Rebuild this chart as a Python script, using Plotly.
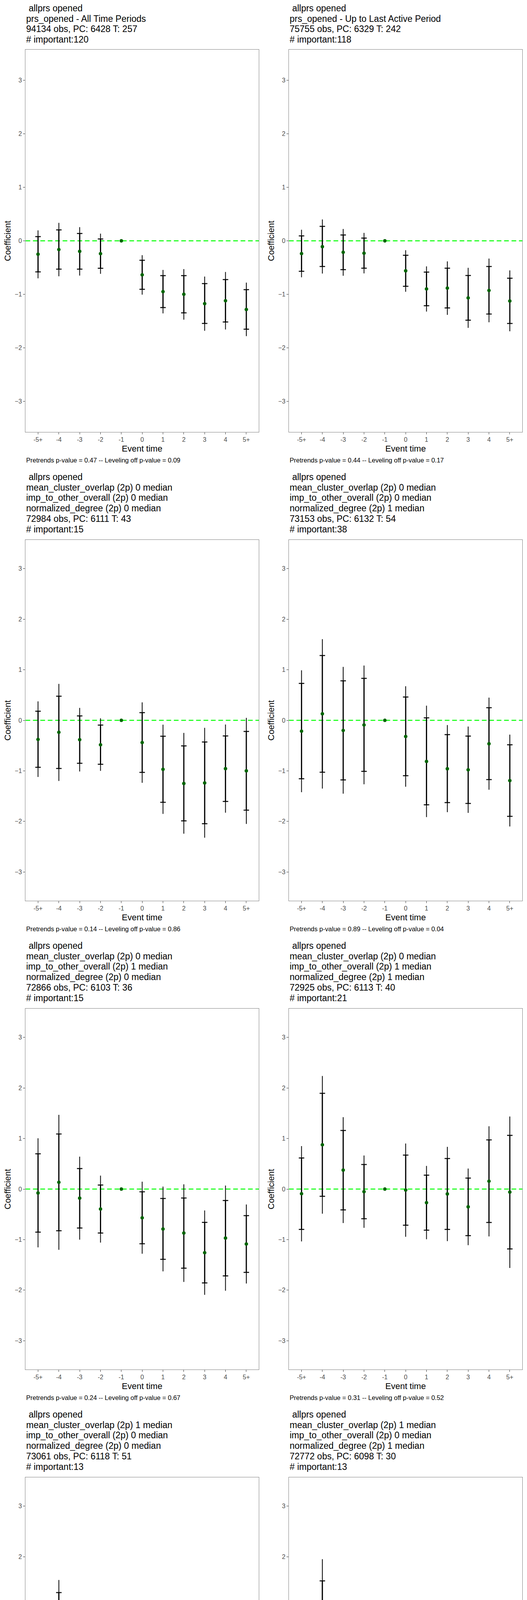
import plotly.graph_objects as go

# categorias del eje x (tiempo de evento)
EVENT_TIMES = ["-5+", "-4", "-3", "-2", "-1", "0", "1", "2", "3", "4", "5+"]
Y_TICKS = [-3, -2, -1, 0, 1, 2, 3]

# coeficientes e intervalos, el periodo -1 es la referencia
coef_1 = [-0.25, -0.163, -0.197, -0.24, 0, -0.635, -0.949, -0.998, -1.173, -1.119, -1.282]
hi95_1 = [0.195, 0.336, 0.255, 0.134, None, -0.268, -0.543, -0.528, -0.667, -0.582, -0.781]
hiin_1 = [0.078, 0.204, 0.136, 0.034, None, -0.363, -0.65, -0.65, -0.798, -0.723, -0.912]
loin_1 = [-0.58, -0.528, -0.528, -0.513, None, -0.905, -1.246, -1.345, -1.543, -1.516, -1.65]
lo95_1 = [-0.70, -0.662, -0.65, -0.616, None, -1.005, -1.355, -1.472, -1.679, -1.655, -1.78]

coef_2 = [-0.238, -0.109, -0.214, -0.231, 0, -0.56, -0.898, -0.883, -1.066, -0.927, -1.124]
hi95_2 = [0.207, 0.399, 0.221, 0.148, None, -0.175, -0.477, -0.384, -0.504, -0.331, -0.552]
hiin_2 = [0.092, 0.27, 0.109, 0.051, None, -0.27, -0.584, -0.511, -0.647, -0.479, -0.698]
loin_2 = [-0.569, -0.479, -0.538, -0.511, None, -0.849, -1.212, -1.253, -1.482, -1.367, -1.543]
lo95_2 = [-0.681, -0.611, -0.652, -0.608, None, -0.951, -1.321, -1.382, -1.625, -1.521, -1.689]

coef_3 = [-0.378, -0.237, -0.383, -0.484, 0, -0.44, -0.97, -1.25, -1.239, -0.956, -1.0]
hi95_3 = [0.375, 0.72, 0.246, 0.04, None, 0.355, -0.086, -0.249, -0.149, -0.083, 0.049]
hiin_3 = [0.18, 0.478, 0.086, -0.094, None, 0.152, -0.315, -0.506, -0.429, -0.309, -0.22]
loin_3 = [-0.93, -0.953, -0.85, -0.87, None, -1.03, -1.622, -1.989, -2.046, -1.605, -1.777]
lo95_3 = [-1.12, -1.20, -1.013, -1.0, None, -1.236, -1.851, -2.243, -2.323, -1.828, -2.05]

coef_4 = [-0.215, 0.129, -0.2, -0.092, 0, -0.32, -0.813, -0.958, -0.979, -0.464, -1.193]
hi95_4 = [0.99, 1.605, 1.056, 1.084, None, 0.675, 0.289, -0.094, -0.123, 0.449, -0.283]
hiin_4 = [0.73, 1.282, 0.781, 0.83, None, 0.461, 0.049, -0.283, -0.312, 0.249, -0.484]
loin_4 = [-1.156, -1.027, -1.179, -1.01, None, -1.096, -1.671, -1.628, -1.645, -1.173, -1.9]
lo95_4 = [-1.422, -1.35, -1.45, -1.265, None, -1.313, -1.914, -1.817, -1.831, -1.373, -2.1]

coef_5 = [-0.077, 0.134, -0.18, -0.395, 0, -0.569, -0.79, -0.87, -1.259, -0.97, -1.087]
hi95_5 = [1.004, 1.468, 0.641, 0.266, None, 0.146, 0.049, 0.094, -0.423, 0.069, -0.306]
hiin_5 = [0.698, 1.09, 0.406, 0.08, None, -0.054, -0.186, -0.177, -0.658, -0.226, -0.526]
loin_5 = [-0.852, -0.824, -0.77, -0.87, None, -1.082, -1.39, -1.565, -1.857, -1.717, -1.648]
lo95_5 = [-1.153, -1.202, -1.001, -1.059, None, -1.279, -1.628, -1.837, -2.092, -2.011, -1.868]

coef_6 = [-0.092, 0.876, 0.375, -0.052, 0, -0.02, -0.269, -0.097, -0.352, 0.155, -0.06]
hi95_6 = [0.85, 2.238, 1.422, 0.664, None, 0.901, 0.458, 0.835, 0.406, 1.242, 1.436]
hiin_6 = [0.615, 1.894, 1.159, 0.486, None, 0.672, 0.275, 0.604, 0.217, 0.973, 1.062]
loin_6 = [-0.798, -0.143, -0.412, -0.587, None, -0.715, -0.813, -0.798, -0.921, -0.661, -1.184]
lo95_6 = [-1.036, -0.486, -0.672, -0.767, None, -0.944, -0.993, -1.03, -1.11, -0.936, -1.56]

coef_7 = [0.36, 0.601, 0.381, 0.226, 0, -0.246, -0.526, -0.306, -0.395, -0.132, -0.418]
hi95_7 = [0.979, 1.539, 0.916, 0.664, None, 0.237, 0.092, 0.269, 0.16, 0.753, 0.263]
hiin_7 = [0.818, 1.29, 0.775, 0.552, None, 0.109, -0.069, 0.117, 0.014, 0.524, 0.083]
loin_7 = [-0.092, -0.089, -0.014, -0.094, None, -0.604, -0.979, -0.727, -0.807, -0.781, -0.918]
lo95_7 = [-0.252, -0.335, -0.155, -0.209, None, -0.732, -1.142, -0.878, -0.95, -1.016, -1.099]

coef_8 = [0.14, 0.524, 0.215, 0.029, 0, -0.449, -0.521, -0.584, -0.793, -0.552, -0.71]
hi95_8 = [1.07, 1.951, 0.921, 0.598, None, 0.186, 0.369, -0.16, -0.183, 0.229, -0.243]
hiin_8 = [0.79, 1.522, 0.71, 0.429, None, -0.006, 0.103, -0.286, -0.366, -0.009, -0.383]
loin_8 = [-0.506, -0.469, -0.278, -0.369, None, -0.893, -1.142, -0.878, -1.213, -1.096, -1.033]
lo95_8 = [-0.787, -0.901, -0.492, -0.541, None, -1.084, -1.411, -1.001, -1.396, -1.33, -1.173]

coef_9 = [-0.02, 0.252, -0.212, -0.132, 0, -0.215, -0.506, -0.558, -0.635, -0.541, -0.876]
hi95_9 = [0.675, 1.142, 0.472, 0.358, None, 0.246, 0.146, 0.283, 0.478, 0.544, -0.003]
hiin_9 = [0.481, 0.89, 0.28, 0.22, None, 0.114, -0.04, 0.046, 0.163, 0.237, -0.252]
loin_9 = [-0.521, -0.389, -0.698, -0.481, None, -0.544, -0.973, -1.165, -1.431, -1.319, -1.499]
lo95_9 = [-0.718, -0.641, -0.893, -0.618, None, -0.672, -1.156, -1.399, -1.745, -1.625, -1.745]

coef_10 = [-0.449, 0.029, -0.34, -0.398, 0, -0.781, -1.056, -1.039, -1.371, -1.279, -1.33]
hi95_10 = [0.624, 1.19, 0.489, 0.392, None, -0.054, -0.275, -0.166, -0.475, -0.32, -0.401]
hiin_10 = [0.378, 0.924, 0.3, 0.215, None, -0.217, -0.455, -0.366, -0.678, -0.538, -0.612]
loin_10 = [-1.27, -0.867, -0.984, -1.01, None, -1.348, -1.657, -1.708, -2.066, -2.02, -2.046]
lo95_10 = [-1.516, -1.136, -1.176, -1.19, None, -1.514, -1.831, -1.908, -2.269, -2.24, -2.258]

# titulos y pies de cada panel
TITLES = [
    ["\u00a0allprs opened", "prs_opened - All Time Periods", "94134 obs, PC: 6428 T: 257", "# important:120"],
    ["\u00a0allprs opened", "prs_opened - Up to Last Active Period", "75755 obs, PC: 6329 T: 242", "# important:118"],
    ["\u00a0allprs opened", "mean_cluster_overlap (2p) 0 median", "imp_to_other_overall (2p) 0 median",
     "normalized_degree (2p) 0 median", "72984 obs, PC: 6111 T: 43", "# important:15"],
    ["\u00a0allprs opened", "mean_cluster_overlap (2p) 0 median", "imp_to_other_overall (2p) 0 median",
     "normalized_degree (2p) 1 median", "73153 obs, PC: 6132 T: 54", "# important:38"],
    ["\u00a0allprs opened", "mean_cluster_overlap (2p) 0 median", "imp_to_other_overall (2p) 1 median",
     "normalized_degree (2p) 0 median", "72866 obs, PC: 6103 T: 36", "# important:15"],
    ["\u00a0allprs opened", "mean_cluster_overlap (2p) 0 median", "imp_to_other_overall (2p) 1 median",
     "normalized_degree (2p) 1 median", "72925 obs, PC: 6113 T: 40", "# important:21"],
    ["\u00a0allprs opened", "mean_cluster_overlap (2p) 1 median", "imp_to_other_overall (2p) 0 median",
     "normalized_degree (2p) 0 median", "73061 obs, PC: 6118 T: 51", "# important:13"],
    ["\u00a0allprs opened", "mean_cluster_overlap (2p) 1 median", "imp_to_other_overall (2p) 0 median",
     "normalized_degree (2p) 1 median", "72772 obs, PC: 6098 T: 30", "# important:13"],
    ["\u00a0allprs opened", "mean_cluster_overlap (2p) 1 median", "imp_to_other_overall (2p) 1 median",
     "normalized_degree (2p) 0 median", "73220 obs, PC: 6127 T: 59", "# important:18"],
    ["\u00a0allprs opened", "mean_cluster_overlap (2p) 1 median", "imp_to_other_overall (2p) 1 median",
     "normalized_degree (2p) 1 median", "73009 obs, PC: 6115 T: 48", "# important:20"],
]
PRETRENDS_P = ["0.47", "0.44", "0.14", "0.89", "0.24", "0.31", "0.22", "0.64", "0.66", "0.5"]
LEVELING_P = ["0.09", "0.17", "0.86", "0.04", "0.67", "0.52", "0.1", "0.45", "0.08", "0.86"]

PANELS = [
    (coef_1, hi95_1, hiin_1, loin_1, lo95_1),
    (coef_2, hi95_2, hiin_2, loin_2, lo95_2),
    (coef_3, hi95_3, hiin_3, loin_3, lo95_3),
    (coef_4, hi95_4, hiin_4, loin_4, lo95_4),
    (coef_5, hi95_5, hiin_5, loin_5, lo95_5),
    (coef_6, hi95_6, hiin_6, loin_6, lo95_6),
    (coef_7, hi95_7, hiin_7, loin_7, lo95_7),
    (coef_8, hi95_8, hiin_8, loin_8, lo95_8),
    (coef_9, hi95_9, hiin_9, loin_9, lo95_9),
    (coef_10, hi95_10, hiin_10, loin_10, lo95_10),
]

W, H = 1350, 6000
FONT = "Liberation Sans, Arial, Helvetica, sans-serif"
CELL_W, CELL_H = 675, 1200


def segmentos(lo, hi):
    # lineas verticales separadas por None
    xs, ys = [], []
    for cat, a, b in zip(EVENT_TIMES, lo, hi):
        if a is None or b is None:
            continue
        xs += [cat, cat, None]
        ys += [a, b, None]
    return xs, ys


fig = go.Figure()
annotations = []
shapes = []

for k, (coef, hi95, hiin, loin, lo95) in enumerate(PANELS):
    n = k + 1
    row, col = k // 2, k % 2
    cx0 = col * CELL_W
    cy0 = row * CELL_H
    left, right = cx0 + 65.4, cx0 + 663
    top = cy0 + (127 if len(TITLES[k]) == 4 else 182)
    bottom = cy0 + 1106
    xa, ya = ("x", "y") if n == 1 else (f"x{n}", f"y{n}")

    xs, ys = segmentos(lo95, hi95)
    fig.add_trace(go.Scatter(x=xs, y=ys, mode="lines", line=dict(color="black", width=2),
                             xaxis=xa, yaxis=ya, showlegend=False, hoverinfo="skip"))
    xs, ys = segmentos(loin, hiin)
    fig.add_trace(go.Scatter(x=xs, y=ys, mode="lines", line=dict(color="black", width=3),
                             xaxis=xa, yaxis=ya, showlegend=False, hoverinfo="skip"))
    # marcas horizontales en el intervalo interior
    tx = [c for c, v in zip(EVENT_TIMES, hiin) if v is not None] * 2
    ty = [v for v in hiin if v is not None] + [v for v in loin if v is not None]
    fig.add_trace(go.Scatter(x=tx, y=ty, mode="markers",
                             marker=dict(symbol="line-ew", size=10, line=dict(color="black", width=2.5)),
                             xaxis=xa, yaxis=ya, showlegend=False, hoverinfo="skip"))
    fig.add_trace(go.Scatter(x=EVENT_TIMES, y=coef, mode="markers",
                             marker=dict(color="#006400", size=9),
                             xaxis=xa, yaxis=ya, showlegend=False))

    axis_common = dict(showgrid=False, zeroline=False, showline=True, mirror=True,
                       linecolor="#7F7F7F", linewidth=1.2, ticks="outside", ticklen=5,
                       tickwidth=1.2, tickcolor="#333333",
                       tickfont=dict(family=FONT, size=16, color="#4D4D4D"))
    fig.update_layout({
        ("xaxis" if n == 1 else f"xaxis{n}"): dict(
            axis_common, type="category", categoryorder="array", categoryarray=EVENT_TIMES,
            range=[-0.6, 10.6], domain=[left / W, right / W], anchor=ya),
        ("yaxis" if n == 1 else f"yaxis{n}"): dict(
            axis_common, range=[-3.57, 3.57], tickvals=Y_TICKS,
            domain=[1 - bottom / H, 1 - top / H], anchor=xa),
    })

    shapes.append(dict(type="line", xref=f"{xa} domain", yref=ya, x0=0, x1=1, y0=0, y1=0,
                       line=dict(color="#00FF00", width=2.5, dash="12px,7px"), layer="below"))

    for i, linea in enumerate(TITLES[k]):
        annotations.append(dict(text=linea, x=left / W, y=1 - (cy0 + 21 + 26.7 * i) / H,
                                xref="paper", yref="paper", xanchor="left", yanchor="middle",
                                showarrow=False, font=dict(family=FONT, size=23, color="black")))
    annotations.append(dict(text="Event time", x=(left + right) / 2 / W, y=1 - (cy0 + 1148) / H,
                            xref="paper", yref="paper", xanchor="center", yanchor="middle",
                            showarrow=False, font=dict(family=FONT, size=22, color="black")))
    annotations.append(dict(text="Coefficient", x=(cx0 + 19) / W, y=1 - (top + bottom) / 2 / H,
                            xref="paper", yref="paper", xanchor="center", yanchor="middle",
                            textangle=-90, showarrow=False,
                            font=dict(family=FONT, size=22, color="black")))
    pie = f"Pretrends p-value = {PRETRENDS_P[k]} -- Leveling off p-value = {LEVELING_P[k]}"
    annotations.append(dict(text=pie, x=left / W, y=1 - (cy0 + 1178) / H,
                            xref="paper", yref="paper", xanchor="left", yanchor="middle",
                            showarrow=False, font=dict(family=FONT, size=16.5, color="black")))

fig.update_layout(width=W, height=H, margin=dict(l=0, r=0, t=0, b=0),
                  paper_bgcolor="white", plot_bgcolor="white",
                  annotations=annotations, shapes=shapes, showlegend=False,
                  hovermode=False, font=dict(family=FONT))

fig.write_html("out.html", config={"displayModeBar": False},
               post_script="document.body.style.margin='0';")
